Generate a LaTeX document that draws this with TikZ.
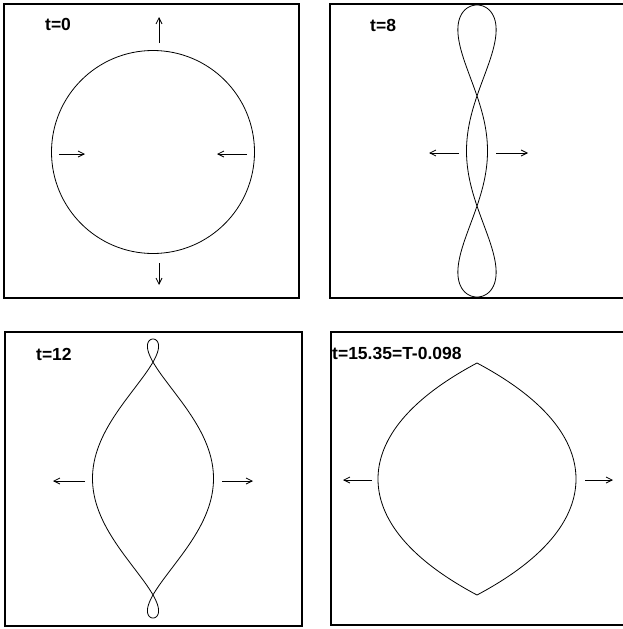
\documentclass[tikz,border=0pt]{standalone}
\usepackage{fontspec}
\setmainfont{Liberation Sans}
\usetikzlibrary{arrows.meta}
\tikzset{
  frame/.style={line width=1.2pt},
  curve/.style={line width=0.8pt},
  motion/.style={line width=0.8pt,-{Straight Barb[length=6pt,width=6pt]}},
  tlabel/.style={anchor=west,inner sep=0pt,font=\fontsize{17.5}{20}\selectfont\bfseries}
}
\begin{document}
\begin{tikzpicture}[x=1pt,y=-1pt]
\useasboundingbox (0,0) rectangle (622,629);
% frames
\draw[frame] (4,4) rectangle (299,298);
\draw[frame] (330,4) rectangle (626,298);
\draw[frame] (5,332) rectangle (302,626);
\draw[frame] (331,332) rectangle (626,625);
% labels
\node[tlabel] (l0) at (45,24) {t=0};
\node[tlabel] (l8) at (370,25) {t=8};
\node[tlabel] (l12) at (36,354) {t=12};
\node[tlabel] (l15) at (332,353) {t=15.35=T-0.098};
% panel 1
\draw[curve] (153,152) circle[radius=101.5];
\coordinate (a1s) at (159,43); \coordinate (a1e) at (159,17);
\coordinate (a2s) at (159,263); \coordinate (a2e) at (159,285);
\coordinate (a3s) at (59,154); \coordinate (a3e) at (85,154);
\coordinate (a4s) at (247,154); \coordinate (a4e) at (217,154);
\draw[motion] (a1s) -- (a1e);
\draw[motion] (a2s) -- (a2e);
\draw[motion] (a3s) -- (a3e);
\draw[motion] (a4s) -- (a4e);
% panel 2
\draw[curve] plot[domain=-90:270,samples=361,smooth]
  ({477+10.5*cos(\x)*(1-sin(\x)^2/0.142)/(1+0.26*sin(\x)^2)},{151+146*sin(\x)});
\coordinate (b1s) at (459,153); \coordinate (b1e) at (429,153);
\coordinate (b2s) at (496,153); \coordinate (b2e) at (528,153);
\draw[motion] (b1s) -- (b1e);
\draw[motion] (b2s) -- (b2e);
% panel 3
\draw[curve] plot[domain=-90:270,samples=361,smooth]
  ({153+60.5*cos(\x)*(1-sin(\x)^2/0.697)},{478.5+139.5*sin(\x)});
\coordinate (c1s) at (85,481); \coordinate (c1e) at (53,481);
\coordinate (c2s) at (222,481); \coordinate (c2e) at (253,481);
\draw[motion] (c1s) -- (c1e);
\draw[motion] (c2s) -- (c2e);
% panel 4
\draw[curve] plot[domain=-90:270,samples=361]
  ({477+99*cos(\x)*abs(cos(\x))*(1+0.1*sin(\x)^2)},{479+116*sin(\x)});
\coordinate (d1s) at (372,480); \coordinate (d1e) at (343,480);
\coordinate (d2s) at (585,480); \coordinate (d2e) at (613,480);
\draw[motion] (d1s) -- (d1e);
\draw[motion] (d2s) -- (d2e);
\end{tikzpicture}
\end{document}
